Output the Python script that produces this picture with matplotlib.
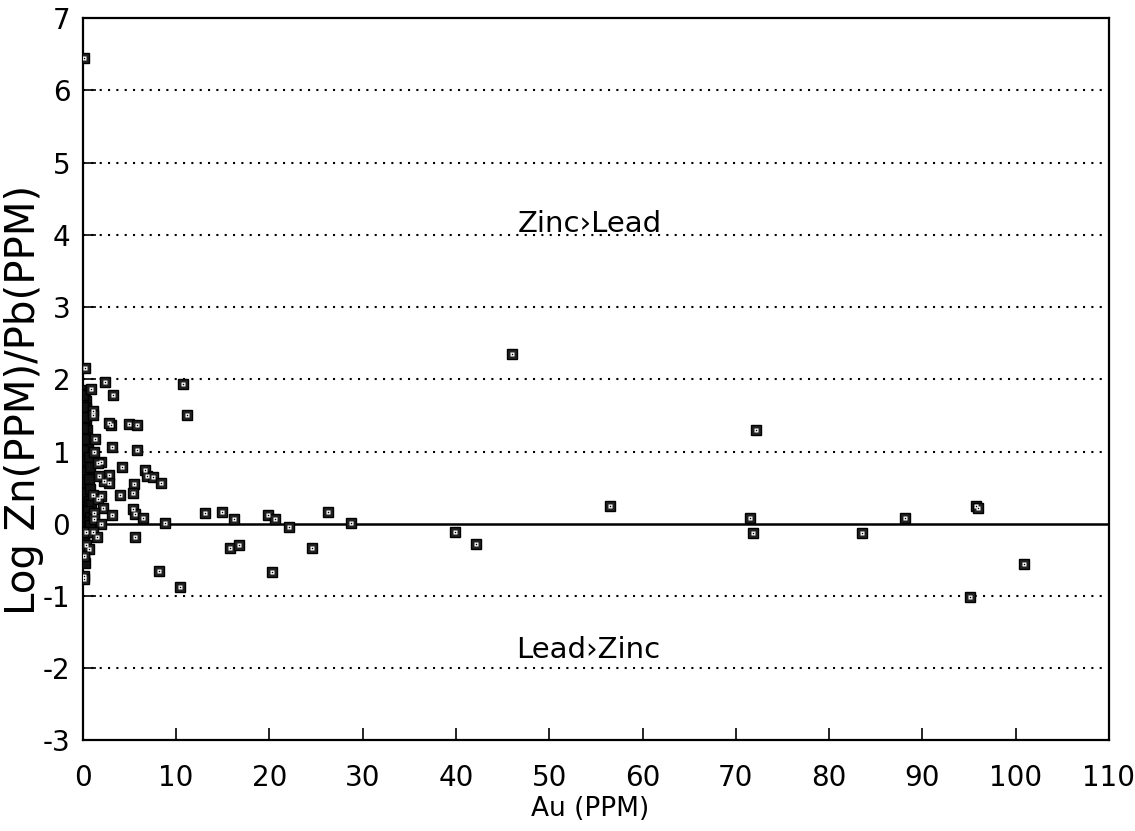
import matplotlib
matplotlib.use("Agg")
import matplotlib.pyplot as plt

plt.rcParams['font.family'] = ['DejaVu Sans']
plt.rcParams['axes.unicode_minus'] = False

# scattered samples, Au (PPM) vs Log Zn/Pb
au_ppm = [0.15, 0.24, 2.38, 10.7, 3.19, 0.84, 11.2, 1.05, 1.05, 3.02,
          2.84, 4.98, 5.81, 1.34, 3.13, 5.81, 1.23, 1.95, 1.66, 4.2,
          6.7, 6.84, 7.56, 8.38, 2.84, 2.84, 2.23, 1.69, 5.52, 5.34,
          4.02, 1.95, 1.05, 1.59, 2.2, 5.34, 5.63, 6.48, 3.09, 1.16,
          1.23, 1.95, 8.84, 13.1, 14.9, 16.2, 19.8, 20.6, 22.1, 5.63,
          0.34, 1.05, 1.48, 0.34, 0.7, 0.09, 15.8, 16.7, 24.6, 8.12,
          20.3, 0.09, 0.1, 10.4, 26.3, 28.8, 39.9, 42.1, 46.0, 56.5,
          72.2, 71.5, 71.8, 83.5, 88.1, 95.8, 96.0, 95.1, 100.9]
log_zn_pb = [6.45, 2.16, 1.96, 1.93, 1.79, 1.86, 1.51, 1.56, 1.50, 1.37,
             1.39, 1.38, 1.37, 1.18, 1.06, 1.02, 0.99, 0.85, 0.84, 0.79,
             0.75, 0.66, 0.65, 0.57, 0.68, 0.56, 0.59, 0.66, 0.55, 0.42,
             0.40, 0.39, 0.40, 0.34, 0.22, 0.20, 0.14, 0.08, 0.12, 0.15,
             0.06, 0.00, 0.01, 0.15, 0.16, 0.06, 0.12, 0.06, -0.04, -0.19,
             -0.12, -0.12, -0.18, -0.29, -0.35, -0.45, -0.34, -0.30, -0.33, -0.65,
             -0.67, -0.72, -0.76, -0.87, 0.17, 0.01, -0.11, -0.28, 2.35, 0.25,
             1.30, 0.08, -0.13, -0.13, 0.08, 0.25, 0.22, -1.02, -0.56]

# dense column of low-gold samples hugging the y axis
col_au = [0.10, 0.25, 0.15, 0.35, 0.05, 0.30, 0.20, 0.45, 0.10, 0.30,
          0.15, 0.40, 0.05, 0.25, 0.35, 0.10, 0.50, 0.20, 0.30, 0.15,
          0.55, 0.40, 0.10, 0.60, 0.25, 0.45, 0.15, 0.55, 0.35, 0.20,
          0.50, 0.10, 0.40, 0.60, 0.25, 0.45, 0.15, 0.35, 0.20, 0.30,
          0.05, 0.15, 0.10, 0.20, 0.05, 0.15, 0.10, 0.20,
          0.05, 0.05, 0.10, 0.05, 0.10, 0.05, 0.10, 0.05, 0.10, 0.05,
          0.70, 0.80, 0.65, 0.75, 0.70, 0.85, 0.60, 0.80, 0.70, 0.75]
col_log = [1.85, 1.80, 1.75, 1.70, 1.65, 1.60, 1.55, 1.50, 1.45, 1.40,
           1.35, 1.30, 1.25, 1.20, 1.15, 1.10, 1.05, 1.00, 0.95, 0.90,
           0.85, 0.80, 0.75, 0.70, 0.65, 0.60, 0.55, 0.50, 0.45, 0.40,
           0.35, 0.30, 0.25, 0.20, 0.15, 0.10, 0.05, 0.00, -0.05, -0.10,
           -0.15, -0.20, -0.25, -0.30, -0.35, -0.40, -0.50, -0.55,
           1.78, 1.62, 1.48, 1.33, 1.18, 1.02, 0.88, 0.72, 0.58, 0.42,
           0.92, 0.78, 0.62, 0.48, 0.32, 0.27, 0.18, 0.10, 0.03, -0.02]

x_ticks = [0, 10, 20, 30, 40, 50, 60, 70, 80, 90, 100, 110]
y_ticks = [-3, -2, -1, 0, 1, 2, 3, 4, 5, 6, 7]
dotted_levels = [-2, -1, 1, 2, 3, 4, 5, 6]

fig = plt.figure(figsize=(11.35, 8.31), dpi=100)
ax = fig.add_axes([0.073, 0.109, 0.904, 0.869])

for lv in dotted_levels:
    ax.axhline(lv, color="black", lw=1.5, linestyle=(0, (1, 3)), zorder=1)
ax.axhline(0, color="black", lw=1.8, zorder=1)

# column points overlap so much they print as a solid bar
ax.plot(col_au, col_log, "s", ms=7.5, mfc="#111111", mec="black", mew=1, zorder=3)

ax.plot(au_ppm, log_zn_pb, "s", ms=7.5, mfc="#222222", mec="black", mew=1, zorder=3)
ax.plot(au_ppm, log_zn_pb, "s", ms=2.6, mfc="white", mec="none", zorder=4)
ax.plot(au_ppm, log_zn_pb, "s", ms=1.0, mfc="black", mec="none", zorder=5)

ax.text(54.3, 4.04, "Zinc›Lead", fontsize=21, ha="center", va="baseline")
ax.text(54.2, -1.86, "Lead›Zinc", fontsize=21, ha="center", va="baseline")

ax.set_xlim(0, 110)
ax.set_ylim(-3, 7)
ax.set_xticks(x_ticks)
ax.set_yticks(y_ticks)
ax.tick_params(direction="in", length=9, width=1.2, labelsize=20)
ax.tick_params(axis="y", pad=9)
ax.tick_params(axis="x", pad=17)
for s in ax.spines.values():
    s.set_linewidth(1.6)

ax.set_xlabel("Au (PPM)", fontsize=19)
ax.xaxis.set_label_coords(0.494, -0.077)
ax.set_ylabel("Log Zn(PPM)/Pb(PPM)", fontsize=29)
ax.yaxis.set_label_coords(-0.038, 0.472)

fig.savefig("out.png", dpi=100)
